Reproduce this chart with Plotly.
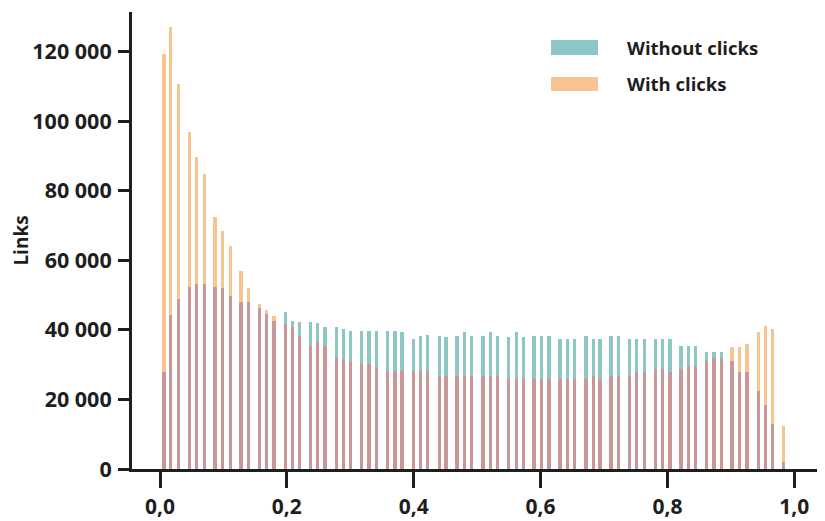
import plotly.graph_objects as go

# Bin centres (share of clicks) and link counts
bin_centers = [0.0063, 0.0169, 0.0289, 0.0462, 0.0579, 0.0694, 0.0867, 0.0988, 0.1104, 0.1277,
               0.1392, 0.1566, 0.1682, 0.1797, 0.1971, 0.2086, 0.2196, 0.2376, 0.2486, 0.2601,
               0.2775, 0.2890, 0.3006, 0.3180, 0.3295, 0.3416, 0.3590, 0.3705, 0.3815, 0.3989,
               0.4104, 0.4220, 0.4399, 0.4509, 0.4682, 0.4797, 0.4914, 0.5092, 0.5203, 0.5318,
               0.5497, 0.5613, 0.5728, 0.5896, 0.6018, 0.6133, 0.6306, 0.6421, 0.6538, 0.6716,
               0.6831, 0.6937, 0.7110, 0.7232, 0.7399, 0.7515, 0.7631, 0.7809, 0.7925, 0.8040,
               0.8214, 0.8329, 0.8445, 0.8619, 0.8734, 0.8849, 0.9018, 0.9133, 0.9254, 0.9428,
               0.9543, 0.9660, 0.9827]

without_clicks = [28000, 44400, 48900, 52300, 53200, 53200, 52300, 52100, 49800, 48000,
                  48000, 46300, 44600, 42700, 45100, 42700, 42400, 42200, 42000, 40800,
                  40800, 40300, 39800, 39800, 39800, 39800, 39800, 39800, 39400, 37400,
                  38300, 38500, 38300, 38000, 38300, 39500, 38300, 38300, 39500, 38300,
                  38000, 39400, 38000, 38300, 38300, 38300, 37400, 37400, 37400, 38300,
                  37400, 37400, 38300, 38300, 37400, 37400, 37400, 37400, 37400, 37400,
                  35500, 35500, 35500, 33600, 33600, 33600, 31100, 27800, 27900, 22300,
                  18400, 12900, 1900]

with_clicks = [119400, 127000, 110700, 96900, 89700, 84800, 72600, 68500, 64100, 56900,
               52000, 47500, 45800, 44100, 41700, 40800, 38200, 35500, 36600, 35500,
               32100, 31600, 31100, 30200, 30200, 29200, 28300, 28300, 28300, 28300,
               28300, 28300, 26800, 26800, 26800, 26800, 26800, 26800, 26800, 26800,
               25900, 25900, 25900, 25900, 25900, 25900, 25900, 25900, 25900, 25900,
               26800, 25900, 26800, 26800, 26800, 27800, 27800, 28800, 28800, 28000,
               28800, 29700, 29700, 31100, 31800, 31600, 35100, 35100, 36000, 39400,
               41100, 40300, 12500]

series_names = ["Without clicks", "With clicks"]
y_title = "Links"
x_tick_values = [0.0, 0.2, 0.4, 0.6, 0.8, 1.0]
y_tick_values = [0, 20000, 40000, 60000, 80000, 100000, 120000]

TEAL = "#8DC7C4"
ORANGE = "#F8C48F"
OVERLAP = "#C89899"
INK = "#1E1E1E"
FONT = "Open Sans"

overlap = [min(a, b) for a, b in zip(without_clicks, with_clicks)]
BAR_W = 0.0048

fig = go.Figure()
fig.add_trace(go.Bar(x=bin_centers, y=without_clicks, width=BAR_W, name=series_names[0],
                     marker=dict(color=TEAL, line=dict(width=0)), showlegend=False))
fig.add_trace(go.Bar(x=bin_centers, y=with_clicks, width=BAR_W, name=series_names[1],
                     marker=dict(color=ORANGE, line=dict(width=0)), showlegend=False))
fig.add_trace(go.Bar(x=bin_centers, y=overlap, width=BAR_W, name="overlap",
                     marker=dict(color=OVERLAP, line=dict(width=0)), showlegend=False,
                     hoverinfo="skip"))

W, H = 825, 521
OFF = 8  # page body margin offsets the figure inside the window
# desired plot-area edges in window pixels
LEFT, RIGHT, TOP, BOTTOM = 132, 818, 12, 469
ML, MT = LEFT - OFF, TOP - OFF
MR, MB = W - (RIGHT - OFF), H - (BOTTOM - OFF)
PW, PH = W - ML - MR, H - MT - MB
X0_PX, X_SCALE = 160, 634.3      # window px of x=0 and px per unit
Y_PER_PX = 287.6                 # links per pixel


def px(xp):
    return (xp - LEFT) / PW


def py(yp):
    return (BOTTOM - yp) / PH


# custom legend (wide swatches like the reference)
legend_items = [(series_names[0], TEAL, 40, 55), (series_names[1], ORANGE, 77, 91)]
shapes = []
annotations = []
for name, col, y0, y1 in legend_items:
    shapes.append(dict(type="rect", xref="paper", yref="paper",
                       x0=px(551), x1=px(598), y0=py(y1), y1=py(y0),
                       fillcolor=col, line=dict(width=0)))
    annotations.append(dict(text=f"<b>{name}</b>", xref="paper", yref="paper",
                            x=px(625), y=py((y0 + y1) / 2), xanchor="left", yanchor="middle",
                            showarrow=False, font=dict(family=FONT, size=18.5, color=INK)))

fig.update_layout(
    width=W, height=H,
    margin=dict(l=ML, r=MR, t=MT, b=MB, pad=0, autoexpand=False),
    paper_bgcolor="white", plot_bgcolor="white",
    barmode="overlay", bargap=0,
    separators=", ",
    font=dict(family=FONT, size=21, color=INK),
    shapes=shapes, annotations=annotations,
    showlegend=False,
)
fig.update_xaxes(
    automargin=False,
    range=[(LEFT - X0_PX) / X_SCALE, (RIGHT - X0_PX) / X_SCALE],
    tickvals=x_tick_values, tickformat=".1f",
    showgrid=False, zeroline=False,
    showline=True, linecolor=INK, linewidth=3,
    ticks="outside", ticklen=16, tickwidth=3, tickcolor=INK,
    tickfont=dict(family=FONT, size=21, color=INK, weight="bold"),
    ticklabelstandoff=1,
)
fig.update_yaxes(
    automargin=True,
    range=[0, PH * Y_PER_PX],
    tickvals=y_tick_values, tickformat=",d",
    showgrid=False, zeroline=False,
    showline=True, linecolor=INK, linewidth=3,
    ticks="outside", ticklen=11, tickwidth=3, tickcolor=INK,
    tickfont=dict(family=FONT, size=21.5, color=INK, weight="bold"),
    ticklabelstandoff=2,
    title=dict(text=f"<b>{y_title}</b>", font=dict(family=FONT, size=19, color=INK), standoff=9),
)

fig.write_html("out.html")
